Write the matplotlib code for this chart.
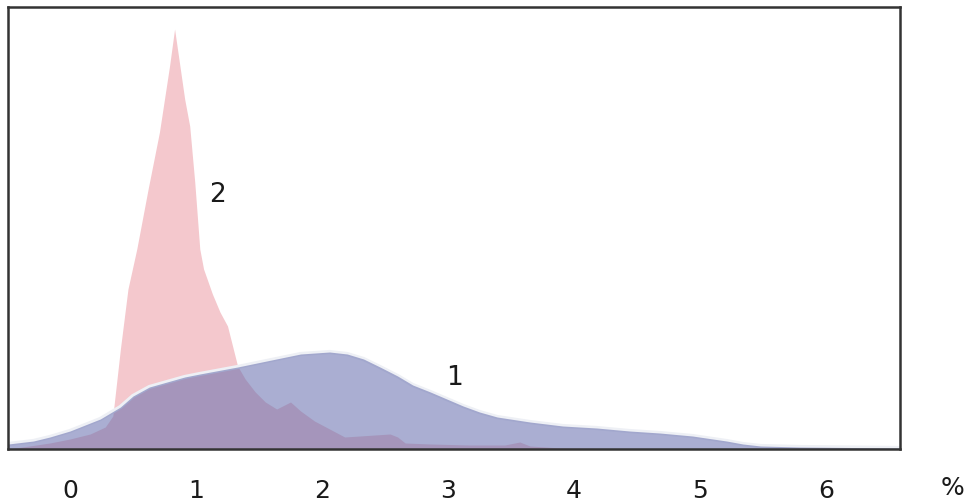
import matplotlib
matplotlib.use("Agg")
import matplotlib.pyplot as plt

# Series 2 (pink) - sharp peak
x2 = [-0.49, -0.32, -0.16, 0.0, 0.16, 0.28, 0.34, 0.40, 0.46, 0.53, 0.62, 0.71, 0.79, 0.83,
      0.87, 0.91, 0.95, 0.99, 1.03, 1.06, 1.13, 1.19, 1.25, 1.33, 1.39, 1.47, 1.55, 1.64,
      1.75, 1.83, 1.94, 2.06, 2.18, 2.30, 2.42, 2.54, 2.60, 2.66, 2.86, 3.17, 3.45, 3.57,
      3.65, 3.89, 4.21, 6.59]
y2 = [0, 3, 6, 10, 15, 22, 33, 100, 160, 200, 260, 317, 383, 420,
      385, 350, 323, 267, 200, 180, 155, 137, 123, 83, 70, 57, 47, 40,
      47, 38, 28, 20, 12, 13, 14, 15, 12, 6, 5, 4, 4, 7,
      3, 1, 0.5, 0]

# Series 1 (blue) - broad distribution
x1 = [-0.49, -0.29, -0.16, 0.0, 0.24, 0.40, 0.50, 0.63, 0.77, 0.91, 1.03, 1.33, 1.56, 1.83,
      2.06, 2.20, 2.33, 2.46, 2.60, 2.72, 2.86, 2.99, 3.12, 3.25, 3.39, 3.65, 3.91, 4.18,
      4.44, 4.68, 4.94, 5.21, 5.34, 5.48, 5.79, 6.59]
y1 = [5, 8, 12, 18, 30, 42, 53, 62, 67, 72, 75, 82, 88, 95,
      97, 95, 90, 82, 73, 64, 57, 50, 43, 37, 32, 27, 23, 21,
      18, 16, 13, 8, 5, 3, 2, 1]

xticks = [0, 1, 2, 3, 4, 5, 6]
xticklabels = ["0", "1", "2", "3", "4", "5", "6"]
unit_label = "%"
labels = ["1", "2"]

fig = plt.figure(figsize=(9.71, 5.02), dpi=100)
ax = fig.add_axes([8 / 971, 52 / 502, 892 / 971, 442 / 502])

ax.fill_between(x2, y2, 0, color="#f4c8cd", lw=0, zorder=1)
ax.plot(x1, y1, color="#eef0f5", lw=3, zorder=1.5, solid_capstyle="round")
ax.fill_between(x1, y1, 0, color=(100 / 255, 108 / 255, 173 / 255), alpha=0.55, lw=0, zorder=2)

ax.set_xlim(-0.492, 6.587)
ax.set_ylim(0, 442)

ax.set_xticks(xticks)
ax.set_xticklabels(xticklabels)
ax.set_yticks([])
ax.tick_params(axis="x", length=0, pad=21, labelsize=18, colors="#1a1a1a")
for s in ax.spines.values():
    s.set_color("#333333")
    s.set_linewidth(1.8)

ax.text(7.0, -38, unit_label, fontsize=18, color="#1a1a1a", ha="center", va="center",
        clip_on=False)
ax.text(3.05, 72, labels[0], fontsize=19, color="#1a1a1a", ha="center", va="center")
ax.text(1.17, 255, labels[1], fontsize=19, color="#1a1a1a", ha="center", va="center")

fig.savefig("out.png", dpi=100)
